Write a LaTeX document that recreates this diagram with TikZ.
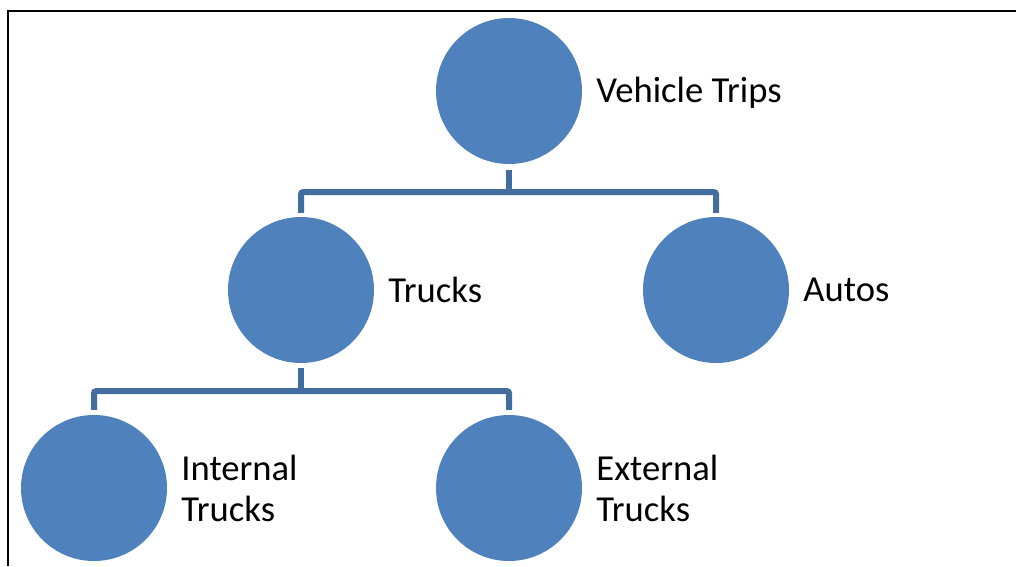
\documentclass[tikz,border=0pt]{standalone}
\usepackage{fontspec}
\setmainfont{Carlito}
\usetikzlibrary{calc}
\definecolor{circblue}{HTML}{4F81BD}
\definecolor{connblue}{HTML}{436C9F}
\tikzset{
  circ/.style={circle, fill=circblue, minimum size=146pt, inner sep=0pt},
  lbl/.style={anchor=west, align=left, font=\fontsize{36.6}{41}\selectfont, inner sep=0pt, text=black},
  conn/.style={draw=connblue, line width=6pt, rounded corners=2pt},
}
\begin{document}
\begin{tikzpicture}[x=1pt,y=-1pt]
\useasboundingbox (0,0) rectangle (1016,566);
\fill[white] (0,0) rectangle (1016,566);
\draw[black, line width=2pt] (8,566) -- (8,11) -- (1016,11);
\node[circ] (vt) at (509,91) {};
\node[circ] (tr) at (301,290) {};
\node[circ] (au) at (716,290) {};
\node[circ] (it) at (94,488) {};
\node[circ] (et) at (509,488) {};
\node[lbl] (lvt) at ([xshift=14pt,yshift=-1.5pt]vt.east) {Vehicle Trips};
\node[lbl] (ltr) at ([xshift=14pt]tr.east) {Trucks};
\node[lbl] (lau) at ([xshift=14pt]au.east) {Autos};
\node[lbl] (lit) at ([xshift=14pt]it.east) {Internal\\Trucks};
\node[lbl] (let) at ([xshift=14pt]et.east) {External\\Trucks};
\draw[conn] ([yshift=-6pt]vt.south) -- ++(0,22) coordinate (j1);
\draw[conn] ([yshift=4pt]tr.north) |- (j1) -| ([yshift=4pt]au.north);
\draw[conn] ([yshift=-5pt]tr.south) -- ++(0,23) coordinate (j2);
\draw[conn] ([yshift=5pt]it.north) |- (j2) -| ([yshift=5pt]et.north);
\end{tikzpicture}
\end{document}
